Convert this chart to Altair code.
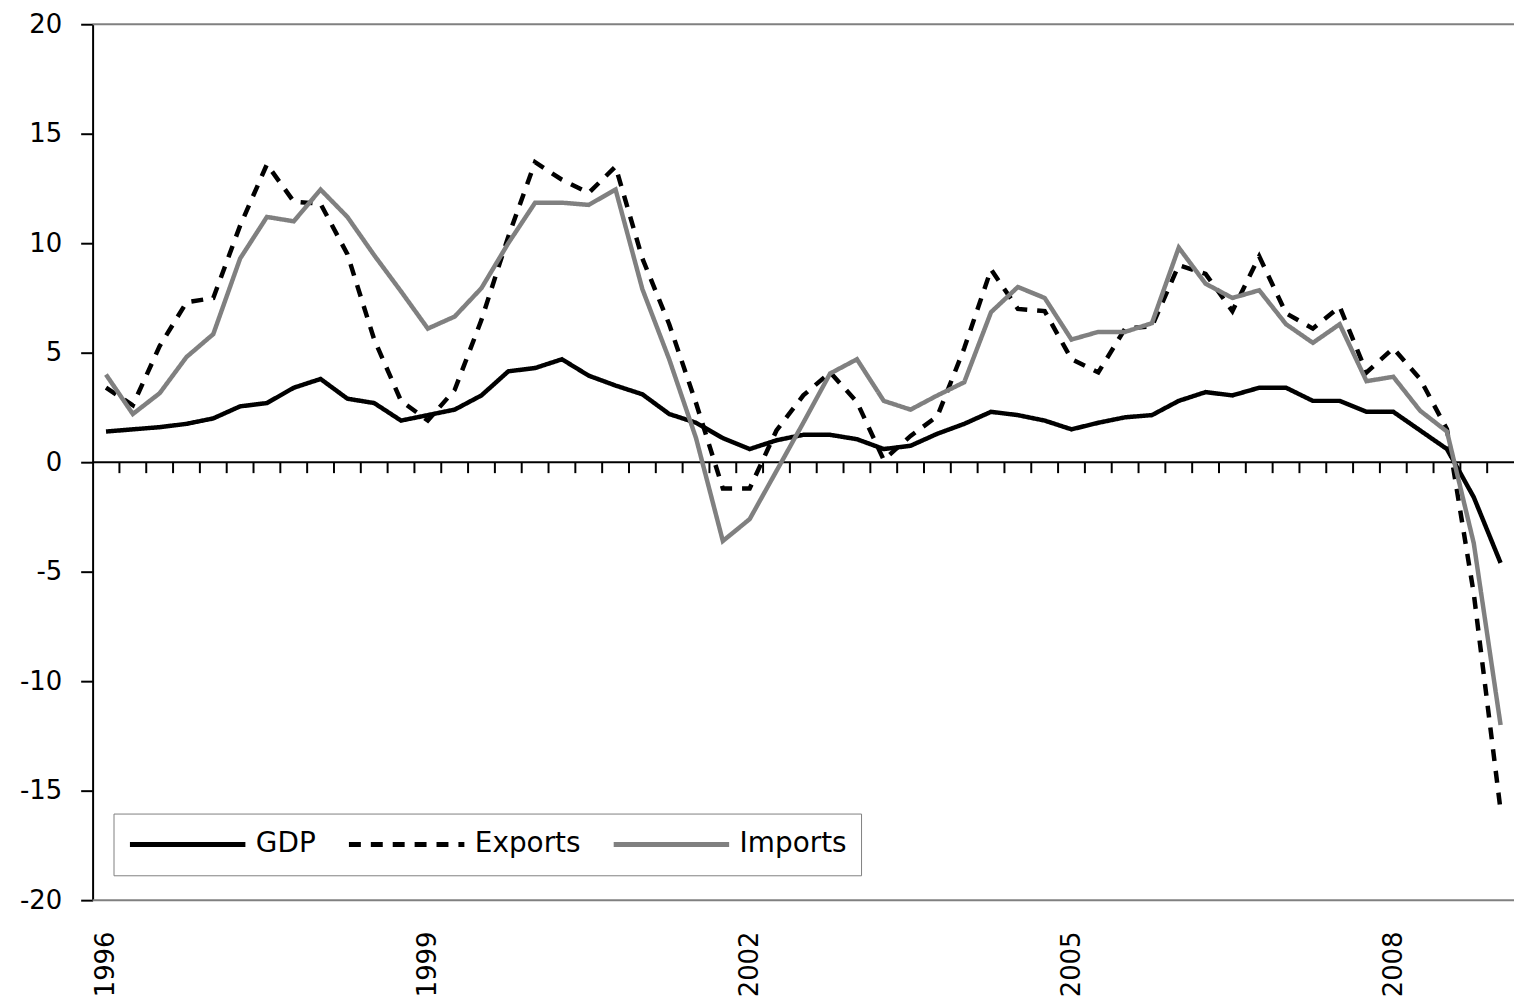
import altair as alt
import pandas as pd

years = list(range(1996, 2010))
quarters = [f"{y}Q{q}" for y in years for q in (1, 2, 3, 4)][:53]
label_years = ["1996", "1999", "2002", "2005", "2008"]
label_idx = [quarters.index(y + "Q1") for y in label_years]

series_names = ["GDP", "Exports", "Imports"]

gdp = [1.4, 1.5, 1.6, 1.75, 2.0, 2.55, 2.7, 3.4, 3.8, 2.9, 2.7, 1.9, 2.15, 2.4,
       3.05, 4.15, 4.3, 4.7, 3.95, 3.5, 3.1, 2.2, 1.8, 1.1, 0.6, 1.0, 1.25, 1.25,
       1.05, 0.6, 0.75, 1.3, 1.75, 2.3, 2.15, 1.9, 1.5, 1.8, 2.05, 2.15, 2.8, 3.2,
       3.05, 3.4, 3.4, 2.8, 2.8, 2.3, 2.3, 1.45, 0.6, -1.6, -4.6]

exports = [3.4, 2.6, 5.3, 7.3, 7.5, 10.8, 13.6, 11.9, 11.8, 9.5, 5.6, 2.8, 1.9, 3.3,
           6.5, 10.3, 13.7, 12.9, 12.3, 13.5, 9.3, 6.3, 2.7, -1.2, -1.2, 1.45, 3.05,
           4.1, 2.75, 0.1, 1.2, 2.1, 5.2, 8.8, 7.0, 6.9, 4.7, 4.1, 6.1, 6.2, 9.0,
           8.6, 6.9, 9.4, 6.8, 6.1, 7.1, 4.1, 5.2, 3.8, 1.5, -6.0, -15.9]

imports = [4.0, 2.2, 3.15, 4.8, 5.85, 9.3, 11.2, 11.0, 12.45, 11.2, 9.45, 7.8, 6.1,
           6.65, 7.95, 10.0, 11.85, 11.85, 11.75, 12.45, 7.9, 4.7, 1.1, -3.6, -2.6,
           -0.4, 1.8, 4.05, 4.7, 2.8, 2.4, 3.05, 3.65, 6.85, 8.0, 7.5, 5.6, 5.95,
           5.95, 6.35, 9.8, 8.15, 7.5, 7.85, 6.3, 5.45, 6.3, 3.7, 3.9, 2.35, 1.4,
           -3.7, -12.0]

rows = []
for name, vals in zip(series_names, [gdp, exports, imports]):
    for i, v in enumerate(vals):
        rows.append({"idx": i, "quarter": quarters[i], "value": v, "series": name})
df = pd.DataFrame(rows)

# category boundaries (tick marks on the zero line)
bounds = pd.DataFrame({"b": [i - 0.5 for i in range(1, len(quarters))], "y0": 0.0, "y1": -0.5})
borders = pd.DataFrame({"v": [-20.0, 20.0]})
zero = pd.DataFrame({"v": [0.0]})

FONT = "DejaVu Sans"
W, H = 1428, 880

x_scale = alt.Scale(domain=[-0.5, len(quarters) - 0.5], nice=False, zero=False)
y_scale = alt.Scale(domain=[-20, 20], nice=False, zero=False)

label_lookup = "{" + ",".join(f'"{i}":"{y}"' for i, y in zip(label_idx, label_years)) + "}"
x_axis = alt.Axis(
    title=None,
    values=label_idx,
    labelExpr=f"{label_lookup}[toString(datum.value)]",
    ticks=False, domain=False, grid=False,
    labelAngle=270,
    labelPadding=31,
    labelFontSize=26, labelFont=FONT, labelColor="black",
)
y_axis = alt.Axis(
    title=None,
    values=[-20, -15, -10, -5, 0, 5, 10, 15, 20],
    labelExpr="toString(datum.value)",
    domainColor="black", domainWidth=2,
    tickColor="black", tickWidth=2, tickSize=12,
    labelFontSize=26, labelFont=FONT, labelColor="black", labelPadding=19,
    grid=False,
)

border_layer = alt.Chart(borders).mark_rule(color="#808080", strokeWidth=2).encode(
    y=alt.Y("v:Q", scale=y_scale, axis=y_axis)
)
zero_layer = alt.Chart(zero).mark_rule(color="black", strokeWidth=2).encode(
    y=alt.Y("v:Q", scale=y_scale, axis=y_axis)
)
tick_layer = alt.Chart(bounds).mark_rule(color="black", strokeWidth=2).encode(
    x=alt.X("b:Q", scale=x_scale, axis=x_axis),
    y=alt.Y("y0:Q", scale=y_scale, axis=y_axis),
    y2="y1:Q",
)

legend = alt.Legend(
    title=None,
    orient="none",
    legendX=21,
    legendY=793,
    direction="horizontal",
    symbolType="stroke",
    symbolSize=116 * 116,
    symbolStrokeWidth=5,
    labelFontSize=28,
    labelFont=FONT,
    labelColor="black",
    labelOffset=8,
    columnPadding=30,
    padding=14,
    clipHeight=34,
    strokeColor="#808080",
    fillColor="white",
)

lines = alt.Chart(df).mark_line(strokeWidth=4.5).encode(
    x=alt.X("idx:Q", scale=x_scale, axis=x_axis),
    y=alt.Y("value:Q", scale=y_scale, axis=y_axis),
    color=alt.Color("series:N", sort=series_names,
                    scale=alt.Scale(domain=series_names, range=["#000000", "#000000", "#808080"]),
                    legend=legend),
    strokeDash=alt.StrokeDash("series:N", sort=series_names,
                              scale=alt.Scale(domain=series_names, range=[[1, 0], [12, 10], [1, 0]]),
                              legend=legend),
)

chart = alt.layer(border_layer, zero_layer, tick_layer, lines).properties(
    width=W,
    height=H,
    padding={"left": 85, "top": 14, "right": 0, "bottom": 96},
    autosize=alt.AutoSizeParams(type="none"),
).configure_view(stroke=None)

chart.save("out.html", embed_options={"renderer": "svg", "actions": False})
